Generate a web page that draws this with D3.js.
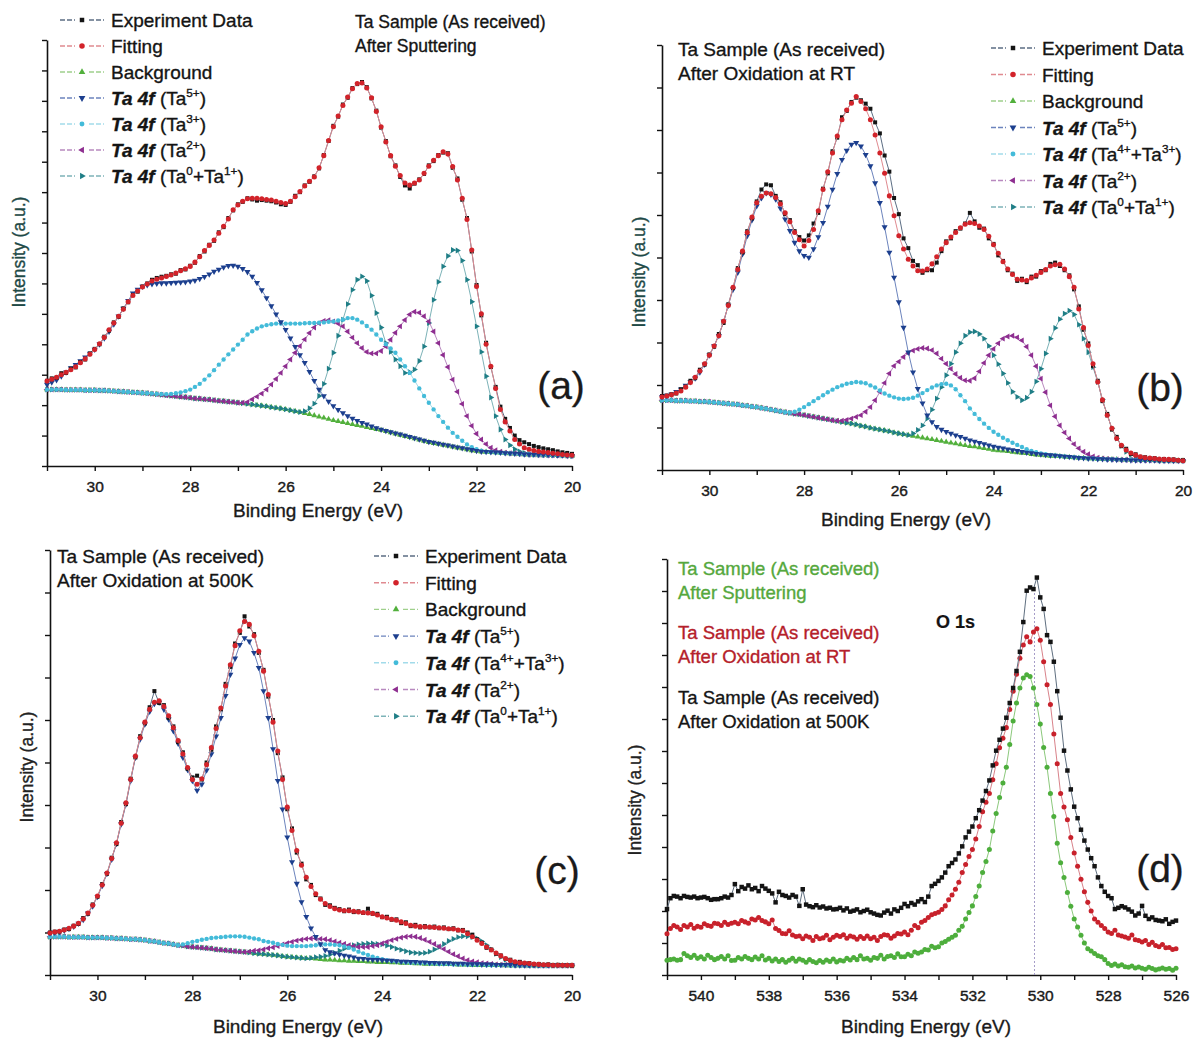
<!DOCTYPE html>
<html>
<head>
<meta charset="utf-8">
<script src="https://cdn.jsdelivr.net/npm/d3@7"></script>
<style>
  body { margin: 0; background: #fff; }
  text { font-family: "Liberation Sans", Arial, sans-serif; }
</style>
</head>
<body>
<svg id="chart" width="1195" height="1039"></svg>
<script>
// binding energy grids (0.1 eV steps)
const energyTa = d3.range(0, 111).map(i => +(31 - i * 0.1).toFixed(1));
const energyO = d3.range(0, 151).map(i => +(541 - i * 0.1).toFixed(1));

// ---------- panel (a) : after sputtering ----------
const aExp = [2.80,2.88,2.90,3.05,3.06,3.20,3.24,3.42,3.50,3.70,
3.85,4.00,4.25,4.45,4.72,4.90,5.18,5.38,5.62,5.73,
5.90,6.00,6.12,6.18,6.22,6.25,6.30,6.32,6.44,6.46,
6.58,6.68,6.90,7.05,7.27,7.40,7.68,7.85,8.15,8.40,
8.60,8.68,8.80,8.76,8.72,8.74,8.72,8.70,8.66,8.60,
8.58,8.68,8.88,9.00,9.22,9.34,9.52,9.78,10.22,10.68,
11.18,11.48,11.88,12.10,12.42,12.55,12.62,12.45,12.08,11.68,
11.12,10.68,10.18,9.88,9.50,9.22,9.12,9.28,9.42,9.60,
9.88,10.02,10.22,10.30,10.28,9.80,9.45,8.75,8.15,7.05,
5.95,4.95,4.05,3.25,2.60,1.95,1.55,1.25,1.00,0.85,
0.78,0.72,0.66,0.62,0.58,0.55,0.52,0.48,0.45,0.43,0.40];
const aFit = [2.79,2.85,2.92,3.00,3.08,3.16,3.26,3.39,3.52,3.67,
3.83,4.02,4.22,4.48,4.70,4.92,5.15,5.40,5.60,5.75,
5.88,5.98,6.08,6.14,6.18,6.23,6.28,6.34,6.42,6.48,
6.56,6.70,6.88,7.08,7.25,7.43,7.65,7.88,8.12,8.42,
8.58,8.70,8.78,8.80,8.80,8.78,8.76,8.74,8.70,8.66,
8.63,8.70,8.85,9.02,9.20,9.36,9.50,9.80,10.20,10.70,
11.15,11.50,11.85,12.13,12.40,12.57,12.59,12.42,12.10,11.65,
11.15,10.65,10.20,9.85,9.55,9.30,9.23,9.30,9.40,9.62,
9.85,10.05,10.20,10.33,10.25,9.84,9.40,8.80,8.10,7.10,
5.90,5.00,4.00,3.28,2.55,1.86,1.45,1.15,0.87,0.72,
0.60,0.55,0.51,0.48,0.46,0.44,0.42,0.40,0.38,0.36,0.35];
const aBg = [2.51,2.51,2.51,2.51,2.50,2.50,2.50,2.50,2.49,2.49,
2.49,2.48,2.48,2.47,2.46,2.45,2.44,2.43,2.42,2.41,
2.40,2.39,2.37,2.36,2.34,2.32,2.31,2.29,2.27,2.26,
2.24,2.22,2.21,2.19,2.18,2.16,2.14,2.13,2.11,2.10,
2.08,2.06,2.04,2.02,2.00,1.98,1.96,1.93,1.91,1.89,
1.86,1.83,1.80,1.77,1.73,1.70,1.66,1.62,1.58,1.54,
1.50,1.47,1.44,1.40,1.37,1.34,1.31,1.27,1.24,1.21,
1.18,1.14,1.10,1.06,1.02,0.98,0.94,0.90,0.86,0.82,
0.78,0.75,0.72,0.69,0.66,0.63,0.60,0.57,0.54,0.51,
0.49,0.47,0.46,0.45,0.44,0.43,0.42,0.41,0.40,0.39,
0.38,0.38,0.37,0.37,0.36,0.36,0.35,0.35,0.34,0.34,0.33];
const aTa5 = [2.68,2.75,2.83,2.95,3.08,3.22,3.33,3.45,3.57,3.70,
3.83,4.00,4.20,4.42,4.66,4.92,5.18,5.43,5.68,5.80,
5.90,5.95,5.98,6.00,6.01,6.01,6.02,6.03,6.04,6.05,
6.07,6.10,6.15,6.22,6.30,6.39,6.46,6.53,6.58,6.59,
6.56,6.48,6.38,6.23,6.02,5.78,5.52,5.26,4.99,4.73,
4.48,4.20,3.92,3.65,3.39,3.10,2.80,2.51,2.30,2.12,
1.97,1.85,1.74,1.64,1.56,1.49,1.42,1.37,1.31,1.25,
1.20,1.16,1.12,1.08,1.04,1.00,0.96,0.92,0.88,0.84,
0.80,0.77,0.74,0.71,0.68,0.65,0.62,0.59,0.56,0.53,
0.50,0.48,0.47,0.46,0.45,0.44,0.43,0.42,0.41,0.40,
0.39,0.38,0.38,0.37,0.37,0.36,0.36,0.35,0.35,0.34,0.34];
const aTa3 = [2.51,2.51,2.51,2.51,2.50,2.50,2.50,2.50,2.49,2.49,
2.49,2.48,2.48,2.47,2.46,2.45,2.44,2.43,2.42,2.41,
2.40,2.39,2.38,2.37,2.36,2.36,2.37,2.39,2.42,2.46,
2.51,2.60,2.70,2.84,2.98,3.15,3.33,3.50,3.67,3.83,
3.99,4.15,4.32,4.43,4.52,4.59,4.63,4.66,4.68,4.68,
4.68,4.68,4.68,4.68,4.69,4.70,4.70,4.71,4.72,4.74,
4.75,4.78,4.81,4.86,4.86,4.81,4.72,4.60,4.48,4.32,
4.15,4.00,3.86,3.72,3.50,3.28,3.06,2.81,2.55,2.30,
2.08,1.86,1.64,1.45,1.26,1.09,0.96,0.83,0.71,0.62,
0.55,0.50,0.47,0.45,0.44,0.43,0.42,0.41,0.40,0.39,
0.38,0.38,0.37,0.37,0.36,0.36,0.35,0.35,0.34,0.34,0.33];
const aTa2 = [2.51,2.51,2.51,2.51,2.50,2.50,2.50,2.50,2.49,2.49,
2.49,2.48,2.48,2.47,2.46,2.45,2.44,2.43,2.42,2.41,
2.40,2.39,2.37,2.36,2.34,2.32,2.31,2.29,2.27,2.26,
2.24,2.22,2.21,2.19,2.18,2.16,2.14,2.13,2.11,2.10,
2.08,2.08,2.10,2.19,2.28,2.38,2.51,2.68,2.86,3.06,
3.28,3.50,3.72,3.94,4.16,4.37,4.55,4.69,4.77,4.79,
4.75,4.68,4.59,4.42,4.22,4.04,3.88,3.75,3.70,3.70,
3.78,3.93,4.15,4.38,4.59,4.80,4.98,5.07,5.04,4.92,
4.75,4.42,4.04,3.65,3.25,2.84,2.44,2.04,1.64,1.32,
1.06,0.87,0.72,0.60,0.52,0.47,0.44,0.42,0.41,0.40,
0.39,0.38,0.38,0.37,0.37,0.36,0.36,0.35,0.35,0.34,0.34];
const aTa01 = [2.51,2.51,2.51,2.51,2.50,2.50,2.50,2.50,2.49,2.49,
2.49,2.48,2.48,2.47,2.46,2.45,2.44,2.43,2.42,2.41,
2.40,2.39,2.37,2.36,2.34,2.32,2.31,2.29,2.27,2.26,
2.24,2.22,2.21,2.19,2.18,2.16,2.14,2.13,2.11,2.10,
2.08,2.06,2.04,2.02,2.00,1.98,1.96,1.93,1.91,1.89,
1.86,1.83,1.80,1.77,1.80,1.90,2.05,2.30,2.70,3.20,
3.72,4.28,4.81,5.32,5.79,6.12,6.23,6.08,5.60,5.03,
4.55,4.04,3.75,3.50,3.28,3.06,3.08,3.17,3.45,3.93,
4.70,5.46,6.05,6.56,6.90,7.10,7.08,6.75,6.12,5.40,
4.59,3.75,2.95,2.25,1.64,1.20,0.87,0.68,0.55,0.48,
0.43,0.40,0.38,0.37,0.36,0.36,0.35,0.35,0.34,0.34,0.33];

// ---------- panel (b) : oxidation at RT ----------
const bExp = [1.74,1.75,1.78,1.80,1.90,1.96,2.10,2.16,2.36,2.48,
2.72,2.90,3.20,3.46,3.90,4.28,4.75,5.12,5.62,5.92,
6.32,6.60,6.72,6.70,6.45,6.30,6.02,5.88,5.62,5.48,
5.40,5.52,5.80,6.05,6.62,6.98,7.50,7.82,8.30,8.45,
8.66,8.76,8.70,8.62,8.50,8.18,7.92,7.40,7.02,6.40,
6.02,5.45,5.22,4.92,4.82,4.64,4.70,4.70,4.88,5.15,
5.38,5.45,5.62,5.68,5.80,6.05,5.85,5.70,5.68,5.45,
5.32,5.05,4.92,4.70,4.62,4.45,4.50,4.42,4.55,4.55,
4.68,4.70,4.85,4.88,4.80,4.70,4.58,4.25,3.85,3.30,
2.98,2.45,2.10,1.62,1.32,0.95,0.78,0.56,0.50,0.38,
0.37,0.31,0.30,0.27,0.28,0.25,0.26,0.24,0.25,0.23,0.23];
const bFit = [1.72,1.74,1.77,1.81,1.86,1.95,2.06,2.18,2.33,2.50,
2.70,2.92,3.16,3.50,3.87,4.30,4.72,5.15,5.59,5.95,
6.29,6.44,6.52,6.50,6.41,6.26,6.05,5.84,5.59,5.42,
5.27,5.40,5.66,6.10,6.60,7.02,7.46,7.86,8.24,8.47,
8.63,8.79,8.67,8.50,8.24,7.88,7.46,6.98,6.45,5.98,
5.51,5.20,4.96,4.80,4.69,4.68,4.73,4.85,5.02,5.20,
5.35,5.48,5.59,5.70,5.78,5.82,5.80,5.74,5.66,5.50,
5.30,5.10,4.90,4.73,4.60,4.49,4.47,4.46,4.52,4.58,
4.65,4.72,4.80,4.83,4.84,4.73,4.55,4.30,3.79,3.35,
2.93,2.50,2.07,1.65,1.29,0.98,0.74,0.58,0.47,0.40,
0.35,0.31,0.29,0.28,0.27,0.26,0.25,0.25,0.24,0.23,0.22];
const bBg = [1.64,1.64,1.64,1.63,1.63,1.63,1.62,1.62,1.61,1.61,
1.60,1.59,1.58,1.57,1.56,1.55,1.54,1.52,1.51,1.49,
1.48,1.46,1.44,1.42,1.40,1.38,1.36,1.34,1.32,1.31,
1.29,1.27,1.25,1.23,1.21,1.19,1.17,1.15,1.13,1.11,
1.09,1.07,1.04,1.02,0.99,0.97,0.95,0.93,0.91,0.88,
0.86,0.84,0.82,0.80,0.78,0.76,0.74,0.72,0.70,0.68,
0.66,0.64,0.62,0.60,0.58,0.56,0.55,0.53,0.51,0.49,
0.47,0.46,0.45,0.44,0.42,0.41,0.40,0.39,0.37,0.36,
0.35,0.34,0.33,0.33,0.32,0.31,0.30,0.29,0.28,0.28,
0.27,0.27,0.26,0.26,0.25,0.25,0.25,0.24,0.24,0.24,
0.23,0.23,0.23,0.23,0.23,0.22,0.22,0.22,0.22,0.22,0.22];
const bTa5 = [1.72,1.75,1.78,1.84,1.90,1.99,2.07,2.16,2.30,2.48,
2.70,2.92,3.16,3.50,3.87,4.25,4.65,5.08,5.51,5.88,
6.21,6.40,6.52,6.48,6.37,6.16,5.90,5.63,5.35,5.15,
5.04,5.00,5.20,5.48,5.82,6.20,6.60,6.97,7.30,7.52,
7.66,7.70,7.62,7.42,7.15,6.75,6.29,5.72,5.12,4.53,
3.95,3.35,2.77,2.30,1.91,1.57,1.29,1.13,1.02,0.95,
0.90,0.86,0.82,0.78,0.74,0.70,0.67,0.64,0.61,0.58,
0.55,0.53,0.51,0.49,0.47,0.45,0.43,0.41,0.40,0.38,
0.37,0.36,0.35,0.34,0.33,0.32,0.31,0.30,0.29,0.28,
0.27,0.27,0.26,0.26,0.25,0.25,0.24,0.24,0.24,0.23,
0.23,0.23,0.23,0.23,0.23,0.22,0.22,0.22,0.22,0.22,0.22];
const bTa3 = [1.64,1.64,1.64,1.63,1.63,1.63,1.62,1.62,1.61,1.61,
1.60,1.59,1.58,1.57,1.56,1.55,1.54,1.52,1.51,1.49,
1.48,1.46,1.44,1.42,1.40,1.38,1.36,1.35,1.37,1.42,
1.48,1.55,1.62,1.69,1.76,1.83,1.89,1.95,1.99,2.03,
2.05,2.07,2.06,2.04,1.99,1.94,1.87,1.80,1.75,1.71,
1.68,1.67,1.68,1.70,1.75,1.81,1.88,1.94,1.99,2.02,
2.03,1.99,1.90,1.76,1.62,1.45,1.32,1.20,1.09,0.99,
0.90,0.83,0.76,0.70,0.64,0.59,0.54,0.49,0.45,0.42,
0.39,0.37,0.35,0.34,0.33,0.32,0.31,0.30,0.29,0.28,
0.27,0.27,0.26,0.26,0.25,0.25,0.25,0.24,0.24,0.24,
0.23,0.23,0.23,0.23,0.23,0.22,0.22,0.22,0.22,0.22,0.22];
const bTa2 = [1.64,1.64,1.64,1.63,1.63,1.63,1.62,1.62,1.61,1.61,
1.60,1.59,1.58,1.57,1.56,1.55,1.54,1.52,1.51,1.49,
1.48,1.46,1.44,1.42,1.40,1.38,1.36,1.34,1.32,1.31,
1.29,1.27,1.25,1.23,1.21,1.19,1.17,1.16,1.16,1.18,
1.21,1.25,1.29,1.37,1.48,1.64,1.84,2.05,2.27,2.45,
2.55,2.66,2.75,2.81,2.85,2.87,2.86,2.82,2.74,2.62,
2.50,2.38,2.26,2.17,2.11,2.10,2.16,2.32,2.52,2.70,
2.85,2.98,3.09,3.14,3.16,3.12,3.05,2.90,2.70,2.44,
2.15,1.83,1.52,1.26,1.05,0.88,0.74,0.61,0.51,0.43,
0.37,0.32,0.29,0.27,0.26,0.25,0.25,0.24,0.24,0.24,
0.23,0.23,0.23,0.23,0.23,0.22,0.22,0.22,0.22,0.22,0.22];
const bTa01 = [1.64,1.64,1.64,1.63,1.63,1.63,1.62,1.62,1.61,1.61,
1.60,1.59,1.58,1.57,1.56,1.55,1.54,1.52,1.51,1.49,
1.48,1.46,1.44,1.42,1.40,1.38,1.36,1.34,1.32,1.31,
1.29,1.27,1.25,1.23,1.21,1.19,1.17,1.15,1.13,1.11,
1.09,1.07,1.04,1.02,0.99,0.97,0.95,0.93,0.91,0.88,
0.86,0.84,0.82,0.86,0.94,1.05,1.21,1.42,1.68,1.95,
2.23,2.50,2.77,2.98,3.16,3.24,3.26,3.20,3.09,2.92,
2.70,2.49,2.27,2.05,1.84,1.72,1.64,1.70,1.84,2.08,
2.38,2.74,3.09,3.34,3.55,3.68,3.75,3.66,3.42,3.09,
2.77,2.42,2.07,1.66,1.29,0.98,0.74,0.57,0.43,0.36,
0.31,0.28,0.26,0.25,0.24,0.23,0.23,0.23,0.22,0.22,0.22];

// ---------- panel (c) : oxidation at 500 K ----------
const cExp = [1.00,1.02,1.02,1.07,1.08,1.16,1.20,1.34,1.44,1.66,
1.84,2.14,2.38,2.76,3.08,3.60,4.02,4.62,5.12,5.62,
5.92,6.30,6.68,6.40,6.35,6.05,5.85,5.48,5.24,4.85,
4.65,4.69,4.60,5.00,5.30,5.85,6.25,6.85,7.25,7.80,
8.05,8.44,8.20,8.02,7.58,7.18,6.55,6.00,5.22,4.65,
3.90,3.45,2.88,2.62,2.25,2.12,1.88,1.80,1.65,1.64,
1.58,1.55,1.50,1.54,1.48,1.50,1.46,1.56,1.44,1.44,
1.36,1.37,1.30,1.31,1.22,1.24,1.15,1.18,1.12,1.15,
1.12,1.14,1.10,1.12,1.08,1.10,1.05,1.06,1.00,0.95,
0.84,0.76,0.64,0.60,0.50,0.46,0.38,0.36,0.30,0.31,
0.28,0.28,0.25,0.26,0.24,0.25,0.23,0.24,0.23,0.23,0.22];
const cFit = [0.99,1.01,1.03,1.06,1.10,1.15,1.22,1.32,1.46,1.64,
1.86,2.12,2.40,2.74,3.11,3.57,4.05,4.60,5.15,5.58,
5.95,6.25,6.42,6.45,6.32,6.10,5.82,5.52,5.20,4.88,
4.60,4.49,4.62,4.95,5.35,5.80,6.28,6.80,7.30,7.75,
8.10,8.32,8.25,7.98,7.62,7.15,6.60,5.95,5.27,4.60,
3.95,3.40,2.93,2.58,2.30,2.08,1.91,1.78,1.68,1.61,
1.56,1.53,1.52,1.51,1.50,1.48,1.47,1.46,1.45,1.41,
1.37,1.34,1.31,1.29,1.25,1.21,1.17,1.15,1.14,1.13,
1.13,1.12,1.11,1.10,1.09,1.08,1.06,1.04,0.97,0.90,
0.82,0.74,0.66,0.59,0.52,0.45,0.39,0.34,0.31,0.29,
0.28,0.27,0.26,0.25,0.24,0.24,0.23,0.23,0.23,0.23,0.23];
const cBg = [0.90,0.90,0.90,0.90,0.89,0.89,0.89,0.89,0.88,0.88,
0.88,0.88,0.87,0.87,0.86,0.86,0.85,0.84,0.84,0.83,
0.82,0.80,0.79,0.77,0.75,0.74,0.72,0.70,0.69,0.67,
0.66,0.65,0.64,0.63,0.62,0.60,0.59,0.58,0.57,0.56,
0.55,0.54,0.53,0.51,0.50,0.49,0.48,0.47,0.46,0.44,
0.43,0.42,0.41,0.40,0.39,0.39,0.38,0.37,0.36,0.36,
0.35,0.34,0.34,0.33,0.33,0.32,0.32,0.31,0.31,0.30,
0.30,0.30,0.29,0.29,0.28,0.28,0.28,0.27,0.27,0.26,
0.26,0.26,0.26,0.25,0.25,0.25,0.24,0.24,0.24,0.23,
0.23,0.23,0.23,0.23,0.23,0.23,0.22,0.22,0.22,0.22,
0.22,0.22,0.22,0.22,0.22,0.22,0.22,0.22,0.22,0.22,0.22];
const cTa5 = [0.98,1.00,1.02,1.05,1.09,1.14,1.21,1.30,1.45,1.62,
1.84,2.10,2.38,2.72,3.09,3.55,4.02,4.57,5.12,5.55,
5.90,6.20,6.38,6.41,6.25,6.02,5.74,5.45,5.12,4.83,
4.57,4.34,4.49,4.82,5.20,5.62,6.05,6.57,7.07,7.45,
7.77,7.93,7.85,7.58,7.23,6.68,6.05,5.32,4.57,3.90,
3.24,2.66,2.15,1.72,1.37,1.10,0.90,0.73,0.59,0.54,
0.51,0.48,0.46,0.44,0.42,0.39,0.38,0.37,0.36,0.36,
0.35,0.34,0.34,0.33,0.32,0.32,0.31,0.31,0.30,0.30,
0.29,0.29,0.28,0.28,0.28,0.27,0.27,0.27,0.26,0.26,
0.26,0.25,0.25,0.25,0.24,0.24,0.24,0.24,0.23,0.23,
0.23,0.23,0.23,0.23,0.23,0.23,0.23,0.23,0.23,0.23,0.23];
const cTa3 = [0.90,0.90,0.90,0.90,0.89,0.89,0.89,0.89,0.88,0.88,
0.88,0.88,0.87,0.87,0.86,0.86,0.85,0.84,0.84,0.83,
0.82,0.80,0.79,0.77,0.75,0.74,0.72,0.70,0.72,0.75,
0.78,0.80,0.83,0.85,0.87,0.88,0.89,0.90,0.91,0.91,
0.91,0.90,0.88,0.86,0.84,0.80,0.78,0.76,0.73,0.71,
0.69,0.68,0.68,0.68,0.68,0.69,0.70,0.71,0.72,0.72,
0.71,0.70,0.67,0.64,0.60,0.55,0.51,0.47,0.43,0.40,
0.37,0.35,0.33,0.32,0.31,0.30,0.29,0.29,0.28,0.28,
0.27,0.27,0.26,0.26,0.26,0.25,0.25,0.25,0.24,0.24,
0.24,0.24,0.23,0.23,0.23,0.23,0.23,0.22,0.22,0.22,
0.22,0.22,0.22,0.22,0.22,0.22,0.22,0.22,0.22,0.22,0.22];
const cTa2 = [0.90,0.90,0.90,0.90,0.89,0.89,0.89,0.89,0.88,0.88,
0.88,0.88,0.87,0.87,0.86,0.86,0.85,0.84,0.84,0.83,
0.82,0.80,0.79,0.77,0.75,0.74,0.72,0.70,0.69,0.67,
0.66,0.65,0.64,0.63,0.62,0.60,0.59,0.58,0.57,0.56,
0.55,0.54,0.55,0.57,0.58,0.60,0.63,0.65,0.68,0.72,
0.75,0.78,0.81,0.83,0.85,0.86,0.86,0.85,0.84,0.82,
0.79,0.76,0.73,0.70,0.68,0.66,0.66,0.66,0.68,0.70,
0.74,0.78,0.82,0.85,0.88,0.90,0.91,0.90,0.87,0.83,
0.78,0.73,0.67,0.61,0.55,0.49,0.44,0.39,0.35,0.32,
0.30,0.28,0.27,0.26,0.25,0.24,0.24,0.23,0.23,0.23,
0.22,0.22,0.22,0.22,0.22,0.22,0.22,0.22,0.22,0.22,0.22];
const cTa01 = [0.90,0.90,0.90,0.90,0.89,0.89,0.89,0.89,0.88,0.88,
0.88,0.88,0.87,0.87,0.86,0.86,0.85,0.84,0.84,0.83,
0.82,0.80,0.79,0.77,0.75,0.74,0.72,0.70,0.69,0.67,
0.66,0.65,0.64,0.63,0.62,0.60,0.59,0.58,0.57,0.56,
0.55,0.54,0.53,0.51,0.50,0.49,0.48,0.47,0.46,0.44,
0.43,0.42,0.41,0.40,0.39,0.40,0.42,0.43,0.45,0.48,
0.52,0.57,0.62,0.66,0.70,0.72,0.73,0.74,0.74,0.73,
0.72,0.69,0.66,0.62,0.59,0.56,0.53,0.52,0.51,0.52,
0.55,0.60,0.66,0.73,0.80,0.85,0.89,0.91,0.91,0.89,
0.86,0.79,0.70,0.60,0.50,0.42,0.36,0.31,0.28,0.26,
0.24,0.23,0.23,0.22,0.22,0.22,0.22,0.22,0.22,0.22,0.22];

// ---------- panel (d) : O 1s ----------
const dSputter = [0.46,0.48,0.50,0.46,0.48,0.67,0.60,0.55,0.62,0.52,
0.57,0.50,0.62,0.55,0.48,0.52,0.58,0.50,0.60,0.45,
0.46,0.55,0.50,0.58,0.52,0.48,0.56,0.50,0.60,0.47,
0.52,0.44,0.50,0.42,0.48,0.40,0.46,0.52,0.43,0.50,
0.46,0.40,0.48,0.42,0.38,0.45,0.40,0.47,0.42,0.50,
0.41,0.46,0.44,0.52,0.47,0.55,0.48,0.60,0.50,0.52,
0.46,0.55,0.52,0.62,0.50,0.58,0.60,0.55,0.66,0.57,
0.57,0.65,0.60,0.72,0.68,0.72,0.80,0.78,0.90,0.85,
0.88,1.00,1.05,1.12,1.18,1.24,1.40,1.52,1.75,1.95,
2.16,2.45,2.78,3.20,3.55,3.92,4.50,5.05,5.55,6.00,
6.49,7.20,7.94,8.50,8.97,9.28,9.38,9.33,8.97,8.45,
7.84,7.11,6.49,5.67,4.95,4.12,3.51,3.05,2.58,2.15,
1.75,1.50,1.24,1.00,0.82,0.75,0.67,0.60,0.57,0.48,
0.36,0.30,0.34,0.28,0.32,0.26,0.24,0.28,0.22,0.25,
0.21,0.18,0.24,0.20,0.16,0.19,0.22,0.18,0.20,0.15,0.21];
const dRT = [1.29,1.45,1.55,1.50,1.42,1.55,1.50,1.58,1.46,1.52,
1.49,1.60,1.55,1.52,1.62,1.60,1.55,1.65,1.58,1.62,
1.65,1.60,1.70,1.66,1.62,1.75,1.72,1.80,1.70,1.66,
1.60,1.72,1.45,1.39,1.30,1.29,1.38,1.25,1.20,1.22,
1.13,1.22,1.18,1.08,1.20,1.13,1.16,1.24,1.10,1.18,
1.24,1.20,1.26,1.15,1.22,1.19,1.12,1.20,1.14,1.22,
1.13,1.18,1.08,1.20,1.26,1.24,1.15,1.22,1.30,1.28,
1.34,1.26,1.40,1.55,1.48,1.65,1.70,1.80,1.88,1.92,
1.96,2.05,2.16,2.35,2.50,2.68,2.90,3.20,3.45,3.70,
3.92,4.25,4.64,5.10,5.40,5.67,6.10,6.60,7.10,7.40,
7.73,8.30,8.87,9.40,9.90,10.31,10.57,10.41,10.72,10.82,
10.46,9.79,9.07,8.45,7.53,6.60,5.67,5.25,4.85,4.30,
3.81,3.40,2.99,2.60,2.27,2.00,1.75,1.65,1.55,1.45,
1.34,1.30,1.40,1.25,1.22,1.19,1.15,1.25,1.10,1.08,
1.03,1.08,0.95,1.02,0.92,0.88,0.95,0.85,0.86,0.80,0.82];
const d500K = [2.06,2.40,2.47,2.45,2.40,2.47,2.44,2.42,2.45,2.40,
2.42,2.44,2.40,2.35,2.37,2.37,2.40,2.45,2.42,2.50,
2.84,2.62,2.75,2.70,2.80,2.68,2.72,2.62,2.78,2.70,
2.63,2.55,2.27,2.60,2.50,2.47,2.42,2.50,2.45,2.16,
2.68,2.20,2.15,2.12,2.18,2.11,2.14,2.08,2.10,2.05,
2.06,2.10,2.02,2.08,1.98,2.01,2.05,1.96,2.00,2.04,
1.96,1.92,1.88,1.86,1.95,2.01,1.92,2.05,2.00,2.10,
2.22,2.15,2.25,2.20,2.30,2.37,2.28,2.45,2.78,2.85,
2.94,3.05,3.20,3.40,3.50,3.61,3.80,4.02,4.30,4.48,
4.64,4.90,5.15,5.45,5.75,6.08,6.55,7.01,7.35,7.70,
8.04,8.50,8.97,9.50,10.10,11.03,12.01,12.11,12.06,12.42,
11.80,11.44,10.62,10.41,9.79,8.87,8.04,7.01,6.39,5.80,
5.26,4.90,4.54,4.20,3.92,3.65,3.40,3.05,2.78,2.60,
2.47,2.40,2.06,2.10,2.15,2.11,2.05,1.98,1.86,1.92,
2.16,1.85,1.75,1.80,1.72,1.70,1.68,1.74,1.60,1.66,1.70];
const o1sPeak = 530.17;

// series look (marker colour, joining line colour, symbol, rotation)
const styles = {
  bg:   { color: '#52b03c', line: '#9fd08c', sym: d3.symbolTriangle, rot: 0,   size: 15 },
  ta01: { color: '#1f7e86', line: '#7db3b8', sym: d3.symbolTriangle, rot: 90,  size: 15 },
  ta2:  { color: '#8e2e90', line: '#b889bf', sym: d3.symbolTriangle, rot: -90, size: 15 },
  ta3:  { color: '#43bbd9', line: '#a2dbea', sym: d3.symbolCircle,   rot: 0,   size: 15 },
  ta5:  { color: '#1c3f8e', line: '#6c84bd', sym: d3.symbolTriangle, rot: 180, size: 16 },
  exp:  { color: '#141414', line: '#5c6e84', sym: d3.symbolSquare,   rot: 0,   size: 16 },
  fit:  { color: '#d2232a', line: '#e08a90', sym: d3.symbolCircle,   rot: 0,   size: 20 },
  sput: { color: '#4dae3c', line: '#8cc97c', sym: d3.symbolCircle,   rot: 0,   size: 20 },
  rt:   { color: '#c8212b', line: '#d9828a', sym: d3.symbolCircle,   rot: 0,   size: 20 },
  k500: { color: '#141414', line: '#5f6f80', sym: d3.symbolSquare,   rot: 0,   size: 20 }
};

const svg = d3.select('#chart');

// a thin outline of the same colour thickens the glyphs like the scanned figure
function heavy(sel, color, w) {
  return sel.attr('fill', color).attr('stroke', color).attr('stroke-width', w || 0.35);
}

function drawPanel(p) {
  const g = svg.append('g');
  const x = d3.scaleLinear().domain(p.xDomain).range([p.left, p.right]);
  const y = d3.scaleLinear().domain([0, p.yMax]).range([p.bottom, p.top]);

  const xa = g.append('g')
    .attr('transform', 'translate(0,' + p.bottom + ')')
    .call(d3.axisBottom(x)
      .tickValues(d3.range(p.xDomain[1], p.xDomain[0] + 1))
      .tickSize(5).tickSizeOuter(0)
      .tickFormat(d => d % 2 === 0 ? d : ''));
  const ya = g.append('g')
    .attr('transform', 'translate(' + p.left + ',0)')
    .call(d3.axisLeft(y)
      .tickValues(d3.range(0, p.yMax + 1))
      .tickSize(5).tickSizeOuter(0)
      .tickFormat(''));
  [xa, ya].forEach(a => {
    a.select('.domain').attr('stroke', '#111').attr('stroke-width', 1.6);
    a.selectAll('.tick line').attr('stroke', '#111').attr('stroke-width', 1.4);
  });
  heavy(xa.selectAll('.tick text')
    .attr('y', 15)
    .attr('font-family', '"Liberation Sans", Arial, sans-serif')
    .attr('font-size', 15.5), '#1a1a1a', 0.4);

  if (p.extra) p.extra(g, x, y);

  p.series.forEach(s => {
    const st = styles[s.key];
    const pts = s.values.map((v, i) => [p.energy[i], v]);
    g.append('path')
      .datum(pts)
      .attr('d', d3.line().x(d => x(d[0])).y(d => y(d[1])))
      .attr('fill', 'none')
      .attr('stroke', st.line)
      .attr('stroke-width', 1);
    g.append('g').selectAll('path')
      .data(pts)
      .join('path')
      .attr('transform', d => 'translate(' + x(d[0]) + ',' + y(d[1]) + ') rotate(' + st.rot + ')')
      .attr('d', d3.symbol(st.sym, st.size))
      .attr('fill', st.color);
  });

  // axis titles
  heavy(g.append('text')
    .attr('x', p.xLabelX).attr('y', p.bottom + p.xLabelDy)
    .attr('text-anchor', 'middle').attr('font-size', 19)
    .text('Binding Energy (eV)'), '#1a1a1a');
  heavy(g.append('text')
    .attr('transform', 'translate(' + p.yLabelX + ',' + p.yLabelY + ') rotate(-90)')
    .attr('text-anchor', 'middle').attr('font-size', 17.5)
    .text('Intensity (a.u.)'), p.yLabelColor);
  heavy(g.append('text')
    .attr('x', p.tagX).attr('y', p.tagY)
    .attr('text-anchor', 'middle').attr('font-size', 39)
    .text(p.tag), '#1a1a1a', 0.3);
  return g;
}

// text with italic / superscript pieces
function richText(sel, x, y, parts, size, color) {
  const t = heavy(sel.append('text').attr('x', x).attr('y', y).attr('font-size', size), color);
  let raised = false;
  parts.forEach(pt => {
    const span = t.append('tspan').text(pt.t);
    if (pt.it) span.attr('font-style', 'italic').attr('font-weight', 'bold');
    if (pt.sup && !raised) { span.attr('dy', -8).attr('font-size', size * 0.62); raised = true; }
    else if (pt.sup) span.attr('font-size', size * 0.62);
    else if (raised) { span.attr('dy', 8); raised = false; }
  });
}

function ion(parts) {
  return [{ t: 'Ta 4f', it: true }, { t: ' (Ta' }].concat(parts).concat([{ t: ')' }]);
}
const legendA = [
  { key: 'exp', parts: [{ t: 'Experiment Data' }] },
  { key: 'fit', parts: [{ t: 'Fitting' }] },
  { key: 'bg', parts: [{ t: 'Background' }] },
  { key: 'ta5', parts: ion([{ t: '5+', sup: true }]) },
  { key: 'ta3', parts: ion([{ t: '3+', sup: true }]) },
  { key: 'ta2', parts: ion([{ t: '2+', sup: true }]) },
  { key: 'ta01', parts: ion([{ t: '0', sup: true }, { t: '+Ta' }, { t: '1+', sup: true }]) }
];
const legendBC = legendA.map(d => d.key === 'ta3'
  ? { key: 'ta3', parts: ion([{ t: '4+', sup: true }, { t: '+Ta' }, { t: '3+', sup: true }]) }
  : d);

function drawLegend(x0, y0, step, items) {
  const g = svg.append('g');
  items.forEach((it, i) => {
    const st = styles[it.key];
    const yy = y0 + i * step;
    g.append('line').attr('x1', x0).attr('x2', x0 + 15).attr('y1', yy).attr('y2', yy)
      .attr('stroke', st.line).attr('stroke-width', 1.4).attr('stroke-dasharray', '5,2');
    g.append('line').attr('x1', x0 + 29).attr('x2', x0 + 44).attr('y1', yy).attr('y2', yy)
      .attr('stroke', st.line).attr('stroke-width', 1.4).attr('stroke-dasharray', '5,2');
    g.append('path')
      .attr('transform', 'translate(' + (x0 + 22) + ',' + yy + ') rotate(' + st.rot + ')')
      .attr('d', d3.symbol(st.sym, st.size + 4)).attr('fill', st.color);
    richText(g, x0 + 51, yy + 7, it.parts, 19, '#141414');
  });
}

function note(x, y, lines, color, size) {
  lines.forEach((l, i) => {
    heavy(svg.append('text').attr('x', x).attr('y', y + i * 24)
      .attr('font-size', size || 19).text(l), color);
  });
}

function taSeries(exp, fit, bg, ta5, ta3, ta2, ta01) {
  return [
    { key: 'bg', values: bg }, { key: 'ta01', values: ta01 }, { key: 'ta2', values: ta2 },
    { key: 'ta3', values: ta3 }, { key: 'ta5', values: ta5 },
    { key: 'exp', values: exp }, { key: 'fit', values: fit }
  ];
}

// (a)
drawPanel({ left: 47, right: 572, top: 40, bottom: 466, xDomain: [31, 20], yMax: 14, energy: energyTa,
  series: taSeries(aExp, aFit, aBg, aTa5, aTa3, aTa2, aTa01),
  xLabelX: 318, xLabelDy: 51,
  yLabelX: 25, yLabelY: 252, yLabelColor: '#1f4a47', tag: '(a)', tagX: 561, tagY: 399 });
drawLegend(60, 20, 26, legendA);
note(355, 28, ['Ta Sample (As received)', 'After Sputtering'], '#141414', 17.5);

// (b)
drawPanel({ left: 662, right: 1183, top: 45, bottom: 470, xDomain: [31, 20], yMax: 10, energy: energyTa,
  series: taSeries(bExp, bFit, bBg, bTa5, bTa3, bTa2, bTa01),
  xLabelX: 906, xLabelDy: 56,
  yLabelX: 645, yLabelY: 272, yLabelColor: '#1f4a47', tag: '(b)', tagX: 1160, tagY: 401 });
drawLegend(991, 48, 26.5, legendBC);
note(678, 56, ['Ta Sample (As received)', 'After Oxidation at RT'], '#141414');

// (c)
drawPanel({ left: 50, right: 572, top: 550, bottom: 975, xDomain: [31, 20], yMax: 10, energy: energyTa,
  series: taSeries(cExp, cFit, cBg, cTa5, cTa3, cTa2, cTa01),
  xLabelX: 298, xLabelDy: 58,
  yLabelX: 33, yLabelY: 767, yLabelColor: '#222', tag: '(c)', tagX: 557, tagY: 884 });
drawLegend(374, 556, 26.7, legendBC);
note(57, 563, ['Ta Sample (As received)', 'After Oxidation at 500K'], '#141414');

// (d)
drawPanel({ left: 667, right: 1176, top: 559, bottom: 975, xDomain: [541, 526], yMax: 13, energy: energyO,
  series: [{ key: 'sput', values: dSputter }, { key: 'rt', values: dRT }, { key: 'k500', values: d500K }],
  xLabelX: 926, xLabelDy: 58,
  yLabelX: 641, yLabelY: 800, yLabelColor: '#222', tag: '(d)', tagX: 1160, tagY: 882,
  extra: (g, x, y) => {
    g.append('line').attr('x1', x(o1sPeak)).attr('x2', x(o1sPeak)).attr('y1', y(0)).attr('y2', y(12.1))
      .attr('stroke', '#a59cc8').attr('stroke-width', 1).attr('stroke-dasharray', '2,2');
  } });
note(678, 575, ['Ta Sample (As received)', 'After Sputtering'], '#55a83d', 18.5);
note(678, 639, ['Ta Sample (As received)', 'After Oxidation at RT'], '#b5202a', 18.5);
note(678, 704, ['Ta Sample (As received)', 'After Oxidation at 500K'], '#141414', 18.5);
heavy(svg.append('text').attr('x', 936).attr('y', 628).attr('font-size', 18).attr('font-weight', 'bold')
  .text('O 1s'), '#141414', 0.2);
</script>
</body>
</html>
